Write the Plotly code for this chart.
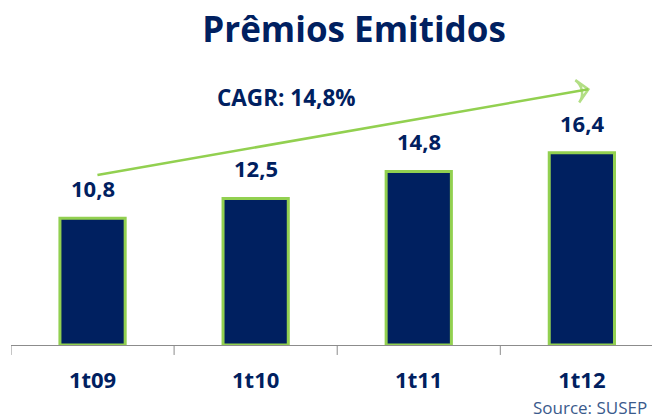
import plotly.graph_objects as go

periods = ["1t09", "1t10", "1t11", "1t12"]
premiums = [10.8, 12.5, 14.8, 16.4]
premium_labels = ["10,8", "12,5", "14,8", "16,4"]

# CAGR trend arrow (category position, value)
arrow_x = [0.03, 3.04]
arrow_y = [14.5, 21.8]
cagr_text = "CAGR: 14,8%"

NAVY = "#002060"
GREEN = "#92D050"
FONT = "Open Sans"

fig = go.Figure()
fig.add_trace(go.Bar(
    x=list(range(len(periods))),
    y=premiums,
    width=0.4,
    marker=dict(color=NAVY, line=dict(color=GREEN, width=3)),
    hoverinfo="skip",
))
fig.add_trace(go.Scatter(
    x=arrow_x,
    y=arrow_y,
    mode="lines+markers",
    line=dict(color=GREEN, width=2.5),
    marker=dict(symbol="arrow-wide-open", size=[0, 16], angleref="previous",
                color=GREEN, line=dict(color=GREEN, width=2.5)),
    hoverinfo="skip",
))

for i, (v, lab) in enumerate(zip(premiums, premium_labels)):
    fig.add_annotation(x=i, y=v, text=f"<b>{lab}</b>", showarrow=False,
                       yanchor="bottom", yshift=13,
                       font=dict(family=FONT, size=22, color=NAVY))

fig.add_annotation(x=1.19, y=21.14, text=f"<b>{cagr_text}</b>", showarrow=False,
                   font=dict(family=FONT, size=22.5, color=NAVY))

fig.add_annotation(xref="paper", yref="paper", x=0.995, y=-0.22, text="Source: SUSEP",
                   showarrow=False, xanchor="right", yanchor="middle",
                   font=dict(family=FONT, size=17, color="#3A5A8C"))

fig.update_layout(
    title=dict(text="<b>Prêmios Emitidos</b>", x=0.543, xanchor="center",
               y=0.93, yanchor="middle",
               font=dict(family=FONT, size=35, color=NAVY)),
    width=652,
    height=418,
    margin=dict(l=11, r=0, t=60, b=73, autoexpand=False),
    plot_bgcolor="white",
    paper_bgcolor="white",
    showlegend=False,
    xaxis=dict(
        tickmode="array",
        tickvals=list(range(len(periods))),
        ticktext=[f"<b>{p}</b>" for p in periods],
        range=[-0.5, 3.43],
        showline=True, linecolor="#8C8C8C", linewidth=1,
        showgrid=False, zeroline=False,
        ticks="",
        tickfont=dict(family=FONT, size=22, color=NAVY),
        ticklabelstandoff=16,
    ),
    yaxis=dict(range=[0, 24.3], visible=False),
)

# category boundary ticks below the axis line
for b in [-0.5, 0.5, 1.5, 2.5]:
    fig.add_shape(type="line", xref="x", yref="paper", x0=b, x1=b, y0=0, y1=-0.035,
                  line=dict(color="#8C8C8C", width=1))

# drop the browser's default body margin so the figure fills the window
fig.write_html("out.html", config={"displayModeBar": False},
               post_script="document.body.style.margin='0';")
